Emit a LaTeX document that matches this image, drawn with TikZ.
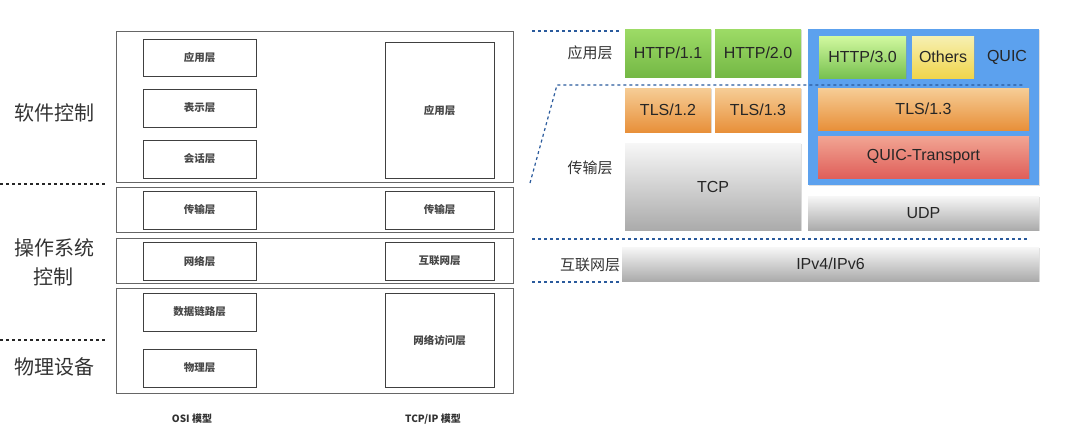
\documentclass[tikz,border=0pt]{standalone}
\usepackage{fontspec}
\setmainfont{Liberation Sans}
\newfontfamily\cjk{Noto Sans CJK SC}
\usetikzlibrary{shadows}
\definecolor{httpTop}{HTML}{9DDB66}
\definecolor{httpBot}{HTML}{74B845}
\definecolor{newTop}{HTML}{D2F9A0}
\definecolor{newBot}{HTML}{78C150}
\definecolor{othTop}{HTML}{F6F0B2}
\definecolor{othBot}{HTML}{F1D54C}
\definecolor{tlsTop}{HTML}{F6CD96}
\definecolor{tlsBot}{HTML}{E8903A}
\definecolor{qtTop}{HTML}{F2A593}
\definecolor{qtBot}{HTML}{DF5F5A}
\definecolor{grayTop}{HTML}{F7F7F7}
\definecolor{grayBot}{HTML}{ABABAB}
\definecolor{quicBlue}{HTML}{5CA1EE}
\definecolor{cutBlue}{HTML}{2A5A9C}
\tikzset{
	grp/.style={draw=black!60, line width=0.8pt},
	layer/.style={draw=black!75, line width=0.8pt, fill=white, inner sep=0pt, text=black!72, font=\cjk\bfseries\fontsize{10.5}{12}\selectfont},
	proto/.style={inner sep=0pt, text=black!85, font=\fontsize{16}{18}\selectfont, drop shadow={shadow xshift=0.6pt, shadow yshift=-1.2pt, opacity=0.25}},
	side/.style={text=black!80, font=\cjk\fontsize{20}{29}\selectfont, align=center},
	tag/.style={text=black!80, font=\cjk\fontsize{15}{17}\selectfont},
	cut/.style={draw=cutBlue, line width=1.2pt, dash pattern=on 3pt off 3pt},
}

\begin{document}
\begin{tikzpicture}[x=1pt, y=-1pt]
		%%%%% START %%%%%
		\useasboundingbox (0, 0) rectangle (1080, 442);
		
		% layer groups
		\draw[grp] (116, 31) rectangle (513, 182);
		\draw[grp] (116, 187) rectangle (513, 232);
		\draw[grp] (116, 238) rectangle (513, 283);
		\draw[grp] (116, 288) rectangle (513, 393);
		
		% OSI column
		\node[layer, minimum width=113pt, minimum height=37pt] (osiapp) at (199.5, 57.5) {应用层};
		\node[layer, minimum width=113pt, minimum height=38pt] (osipre) at (199.5, 108) {表示层};
		\node[layer, minimum width=113pt, minimum height=38pt] (osises) at (199.5, 159) {会话层};
		\node[layer, minimum width=113pt, minimum height=38pt] (ositra) at (199.5, 210) {传输层};
		\node[layer, minimum width=113pt, minimum height=38pt] (osinet) at (199.5, 261) {网络层};
		\node[layer, minimum width=113pt, minimum height=38pt] (osidl) at (199.5, 312) {数据链路层};
		\node[layer, minimum width=113pt, minimum height=38pt] (osiphy) at (199.5, 368) {物理层};
		
		% TCP/IP column
		\node[layer, minimum width=109pt, minimum height=136pt] (tcpapp) at (439.5, 110) {应用层};
		\node[layer, minimum width=109pt, minimum height=38pt] (tcptra) at (439.5, 210) {传输层};
		\node[layer, minimum width=109pt, minimum height=38pt] (tcpnet) at (439.5, 261) {互联网层};
		\node[layer, minimum width=109pt, minimum height=94pt] (tcpacc) at (439.5, 340) {网络访问层};
		
		\node[text=black!80, font=\cjk\bfseries\fontsize{10}{12}\selectfont] (osiname) at (192, 419) {OSI 模型};
		\node[text=black!80, font=\cjk\bfseries\fontsize{10}{12}\selectfont] (tcpname) at (433, 419) {TCP/IP 模型};
		
		% control levels
		\node[side] (soft) at (54, 113) {软件控制};
		\node[side] (os) at (54, 262) {操作系统\\控制};
		\node[side] (phys) at (54, 367) {物理设备};
		\draw[black!85, line width=1.1pt, dash pattern=on 3pt off 3pt] (0, 184) -- (107, 184);
		\draw[black!85, line width=1.1pt, dash pattern=on 3pt off 3pt] (0, 340) -- (107, 340);
		
		% protocol stack
		\node[tag] (tagapp) at (590, 53) {应用层};
		\node[tag] (tagtra) at (590, 168) {传输层};
		\node[tag] (tagnet) at (590, 265) {互联网层};
		
		\node[proto, top color=httpTop, bottom color=httpBot, minimum width=86pt, minimum height=48pt] (http1) at (668, 53) {HTTP/1.1};
		\node[proto, top color=httpTop, bottom color=httpBot, minimum width=86pt, minimum height=48pt] (http2) at (758, 53) {HTTP/2.0};
		\node[proto, top color=tlsTop, bottom color=tlsBot, minimum width=86pt, minimum height=44pt] (tls12) at (668, 110) {TLS/1.2};
		\node[proto, top color=tlsTop, bottom color=tlsBot, minimum width=86pt, minimum height=44pt] (tls13) at (758, 110) {TLS/1.3};
		\node[proto, top color=grayTop, bottom color=grayBot, minimum width=176pt, minimum height=87pt] (tcp) at (713, 186.5) {TCP};
		
		\node[proto, fill=quicBlue, minimum width=231pt, minimum height=156pt] (quic) at (923.5, 107) {};
		\node[proto, top color=newTop, bottom color=newBot, minimum width=87pt, minimum height=42pt] (http3) at (862.5, 57) {HTTP/3.0};
		\node[proto, top color=othTop, bottom color=othBot, minimum width=62pt, minimum height=42pt] (others) at (943, 57) {Others};
		\node[text=black!85, font=\fontsize{16}{18}\selectfont] (quicname) at (1007, 57) {QUIC};
		\node[proto, top color=tlsTop, bottom color=tlsBot, minimum width=211pt, minimum height=42pt] (qtls) at (923.5, 109) {TLS/1.3};
		\node[proto, top color=qtTop, bottom color=qtBot, minimum width=211pt, minimum height=42pt] (qtrans) at (923.5, 157) {QUIC-Transport};
		\node[proto, top color=grayTop, bottom color=grayBot, minimum width=231pt, minimum height=34pt] (udp) at (923.5, 213) {UDP};
		\node[proto, top color=grayTop, bottom color=grayBot, minimum width=417pt, minimum height=34pt] (ip) at (830.5, 264) {IPv4/IPv6};
		
		% cut lines
		\coordinate (c1a) at (532, 31);
		\coordinate (c1b) at (620, 31);
		\coordinate (c2a) at (530, 183);
		\coordinate (c2b) at (557, 85);
		\coordinate (c2c) at (1023, 85);
		\coordinate (c3a) at (532, 239);
		\coordinate (c3b) at (1028, 239);
		\coordinate (c4a) at (532, 282);
		\coordinate (c4b) at (620, 282);
		\draw[cut] (c1a) -- (c1b);
		\draw[cut] (c2a) -- (c2b) -- (c2c);
		\draw[cut] (c3a) -- (c3b);
		\draw[cut] (c4a) -- (c4b);
		%%%%% END %%%%%
	\end{tikzpicture}
\end{document}
